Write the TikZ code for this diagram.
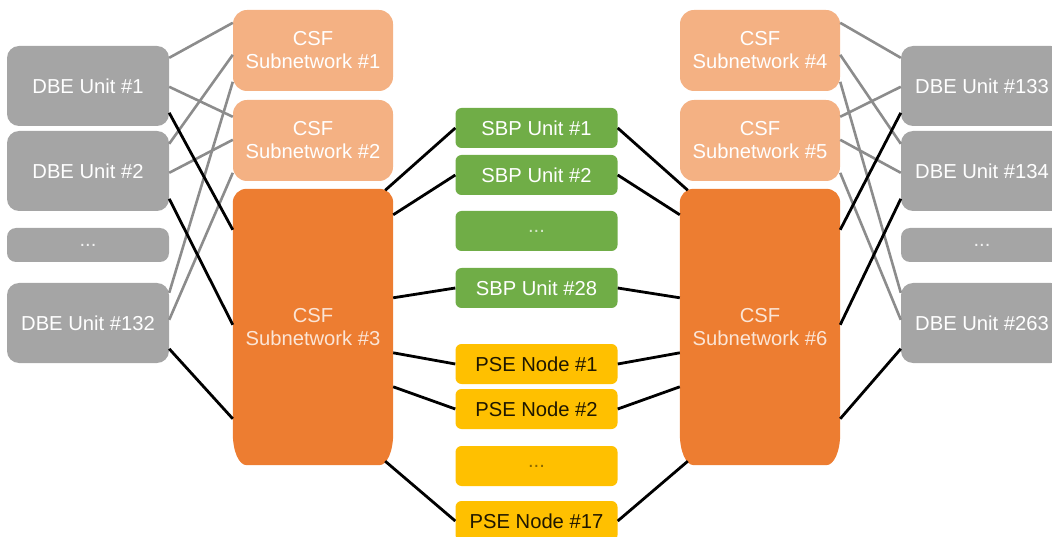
\documentclass[tikz,border=0pt]{standalone}
\usepackage{fontspec}
\setmainfont{Liberation Sans}
\usetikzlibrary{backgrounds,calc}

\definecolor{dbegray}{HTML}{A5A5A5}
\definecolor{csflight}{HTML}{F4B183}
\definecolor{csfdark}{HTML}{ED7D31}
\definecolor{sbpgreen}{HTML}{70AD47}
\definecolor{psegold}{HTML}{FFC000}
\definecolor{linkgray}{HTML}{8C8C8C}
\definecolor{csftext}{HTML}{FBE5D6}

% tall CSF subnetwork body: small top corners, stretched bottom corners
\newcommand{\csfbody}[1]{%
  \begin{scope}[on background layer]
    \fill[csfdark]
      ([yshift=-14pt]#1.north west) .. controls ([yshift=-6pt]#1.north west) and ([xshift=6pt]#1.north west) .. ([xshift=14pt]#1.north west)
      -- ([xshift=-14pt]#1.north east) .. controls ([xshift=-6pt]#1.north east) and ([yshift=-6pt]#1.north east) .. ([yshift=-14pt]#1.north east)
      -- ([yshift=32pt]#1.south east) .. controls ([yshift=14pt]#1.south east) and ([xshift=-6pt]#1.south east) .. ([xshift=-14pt]#1.south east)
      -- ([xshift=14pt]#1.south west) .. controls ([xshift=6pt]#1.south west) and ([yshift=14pt]#1.south west) .. ([yshift=32pt]#1.south west)
      -- cycle;
  \end{scope}}

\begin{document}
\begin{tikzpicture}[x=1pt,y=-1pt,
  box/.style={inner sep=0pt, align=center, font=\fontsize{20.2}{23}\selectfont, text=white},
  dbe/.style={box, fill=dbegray, rounded corners=12pt, minimum width=162pt, minimum height=80pt},
  dbedots/.style={dbe, minimum height=34pt, rounded corners=9pt, text=white!85!dbegray},
  csfsmall/.style={box, fill=csflight, rounded corners=14pt, minimum width=160pt, minimum height=81pt},
  csfbig/.style={box, text=csftext, minimum width=160pt, minimum height=276pt},
  sbp/.style={box, fill=sbpgreen, rounded corners=6pt, minimum width=162pt, minimum height=40pt},
  sbpdots/.style={sbp, text=white!70!sbpgreen},
  pse/.style={sbp, fill=psegold, text=black!88!psegold},
  psedots/.style={pse, text=black!45!psegold},
  graylink/.style={draw=linkgray, line width=2.6pt},
  blacklink/.style={draw=black, line width=2.8pt},
]
\useasboundingbox (0,0) rectangle (1052,537);
\clip (0,0) rectangle (1052,537);

% left DBE units
\node[dbe] (dbe1) at (88,86) {DBE Unit \#1};
\node[dbe] (dbe2) at (88,171) {DBE Unit \#2};
\node[dbedots] (dbeL) at (88,245) {...};
\node[dbe] (dbe132) at (88,323) {DBE Unit \#132};

% right DBE units
\node[dbe] (dbe133) at (982,86) {DBE Unit \#133};
\node[dbe] (dbe134) at (982,171) {DBE Unit \#134};
\node[dbedots] (dbeR) at (982,245) {...};
\node[dbe] (dbe263) at (982,323) {DBE Unit \#263};

% CSF subnetworks
\node[csfsmall] (csf1) at (313,50.5) {CSF\\Subnetwork \#1};
\node[csfsmall] (csf2) at (313,140.5) {CSF\\Subnetwork \#2};
\node[csfbig] (csf3) at (313,327) {CSF\\Subnetwork \#3};
\csfbody{csf3}
\node[csfsmall] (csf4) at (760,50.5) {CSF\\Subnetwork \#4};
\node[csfsmall] (csf5) at (760,140.5) {CSF\\Subnetwork \#5};
\node[csfbig] (csf6) at (760,327) {CSF\\Subnetwork \#6};
\csfbody{csf6}

% SBP units
\node[sbp] (sbp1) at (536.5,128) {SBP Unit \#1};
\node[sbp] (sbp2) at (536.5,175) {SBP Unit \#2};
\node[sbpdots] (sbpD) at (536.5,231) {...};
\node[sbp] (sbp28) at (536.5,288) {SBP Unit \#28};

% PSE nodes
\node[pse] (pse1) at (536.5,364) {PSE Node \#1};
\node[pse] (pse2) at (536.5,409) {PSE Node \#2};
\node[psedots] (pseD) at (536.5,466) {...};
\node[pse] (pse17) at (536.5,521) {PSE Node \#17};

% DBE units to the small CSF subnetworks (left)
\draw[graylink] ([yshift=-12pt]dbe1.north east) -- ([yshift=-13pt]csf1.north west);
\draw[graylink] ([yshift=-41pt]dbe1.north east) -- ([yshift=-17pt]csf2.north west);
\draw[graylink] ([yshift=-13pt]dbe2.north east) -- ([yshift=-45pt]csf1.north west);
\draw[graylink] ([yshift=-42pt]dbe2.north east) -- ([yshift=-40pt]csf2.north west);
\draw[graylink] ([yshift=-10pt]dbe132.north east) -- ([yshift=-72pt]csf1.north west);
\draw[graylink] ([yshift=-37pt]dbe132.north east) -- ([yshift=-73pt]csf2.north west);

% DBE units to the small CSF subnetworks (right)
\draw[graylink] ([yshift=-12pt]dbe133.north west) -- ([yshift=-13pt]csf4.north east);
\draw[graylink] ([yshift=-41pt]dbe133.north west) -- ([yshift=-17pt]csf5.north east);
\draw[graylink] ([yshift=-13pt]dbe134.north west) -- ([yshift=-45pt]csf4.north east);
\draw[graylink] ([yshift=-42pt]dbe134.north west) -- ([yshift=-40pt]csf5.north east);
\draw[graylink] ([yshift=-10pt]dbe263.north west) -- ([yshift=-72pt]csf4.north east);
\draw[graylink] ([yshift=-37pt]dbe263.north west) -- ([yshift=-73pt]csf5.north east);

% DBE units to the large CSF subnetworks
\draw[blacklink] ([yshift=-67pt]dbe1.north east) -- ([yshift=-41pt]csf3.north west);
\draw[blacklink] ([yshift=-68pt]dbe2.north east) -- ([yshift=-136pt]csf3.north west);
\draw[blacklink] ([yshift=-66pt]dbe132.north east) -- ([yshift=-230pt]csf3.north west);
\draw[blacklink] ([yshift=-67pt]dbe133.north west) -- ([yshift=-41pt]csf6.north east);
\draw[blacklink] ([yshift=-68pt]dbe134.north west) -- ([yshift=-136pt]csf6.north east);
\draw[blacklink] ([yshift=-66pt]dbe263.north west) -- ([yshift=-230pt]csf6.north east);

% CSF #3 to SBP units and PSE nodes
\draw[blacklink] ([xshift=-8pt,yshift=-1.5pt]csf3.north east) -- (sbp1.west);
\draw[blacklink] ([yshift=-26pt]csf3.north east) -- (sbp2.west);
\draw[blacklink] ([yshift=-109pt]csf3.north east) -- (sbp28.west);
\draw[blacklink] ([yshift=-164pt]csf3.north east) -- (pse1.west);
\draw[blacklink] ([yshift=-198pt]csf3.north east) -- (pse2.west);
\draw[blacklink] ([xshift=-8pt,yshift=4pt]csf3.south east) -- (pse17.west);

% CSF #6 to SBP units and PSE nodes
\draw[blacklink] ([xshift=8pt,yshift=-1.5pt]csf6.north west) -- (sbp1.east);
\draw[blacklink] ([yshift=-26pt]csf6.north west) -- (sbp2.east);
\draw[blacklink] ([yshift=-109pt]csf6.north west) -- (sbp28.east);
\draw[blacklink] ([yshift=-164pt]csf6.north west) -- (pse1.east);
\draw[blacklink] ([yshift=-198pt]csf6.north west) -- (pse2.east);
\draw[blacklink] ([xshift=8pt,yshift=4pt]csf6.south west) -- (pse17.east);
\end{tikzpicture}
\end{document}
